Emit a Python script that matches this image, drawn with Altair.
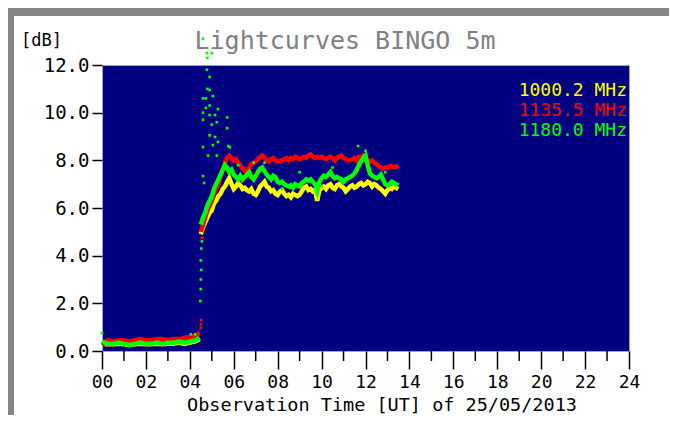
import altair as alt
import pandas as pd

# ---------------- data ----------------
series_names = ["1000.2 MHz", "1135.5 MHz", "1180.0 MHz"]
series_colors = ["#ffff00", "#ff0000", "#00ff00"]

# baseline section, 00h - 04.5h, every 0.25 h
base_hours = [0.0, 0.25, 0.5, 0.75, 1.0, 1.25, 1.5, 1.75, 2.0, 2.25,
              2.5, 2.75, 3.0, 3.25, 3.5, 3.75, 4.0, 4.25, 4.45]
base_yellow = [0.3, 0.28, 0.28, 0.3, 0.28, 0.25, 0.28, 0.3, 0.28, 0.28,
               0.3, 0.28, 0.3, 0.3, 0.35, 0.3, 0.35, 0.4, 0.5]
base_red = [0.25, 0.45, 0.4, 0.45, 0.45, 0.4, 0.45, 0.5, 0.45, 0.45,
            0.5, 0.5, 0.45, 0.5, 0.5, 0.55, 0.6, 0.65, 0.75]
base_green = [0.4, 0.3, 0.3, 0.35, 0.3, 0.25, 0.3, 0.35, 0.3, 0.3,
              0.35, 0.3, 0.35, 0.35, 0.4, 0.35, 0.4, 0.45, 0.55]

# main section, 04.5h - 13.5h, every 0.1 h
main_hours = [round(4.5 + 0.1 * i, 1) for i in range(91)]
main_yellow = [4.9, 5.2, 5.4, 5.6, 5.8, 5.9,
               6.2, 6.3, 6.5, 6.6, 6.8, 6.9, 7.1, 7.25, 7.0, 6.8,
               6.9, 7.05, 6.95, 6.8, 6.85, 6.75, 6.7, 6.8, 6.6, 6.55,
               6.7, 6.9, 7.0, 7.1, 6.9, 6.85, 6.7, 6.75, 6.6, 6.55,
               6.7, 6.75, 6.6, 6.5, 6.55, 6.45, 6.6, 6.55, 6.5, 6.55,
               6.7, 6.85, 6.9, 6.75, 6.8, 6.7, 6.75, 6.3, 6.75, 6.85,
               6.9, 6.8, 6.95, 7.0, 6.85, 6.8, 6.95, 7.0, 6.9, 6.85,
               6.7, 6.8, 6.9, 6.95, 6.85, 6.9, 7.0, 7.05, 6.95, 7.0,
               7.1, 7.05, 6.9, 7.0, 6.95, 6.85, 6.8, 6.7, 6.6, 6.75,
               6.85, 6.8, 6.9, 6.85, 6.8]
main_red = [5.0, 5.3, 5.6, 5.9, 6.1, 6.3,
            6.6, 6.8, 7.0, 7.3, 7.6, 7.9, 8.1, 8.2, 8.1, 8.0,
            8.05, 7.9, 7.8, 7.65, 7.55, 7.5, 7.7, 7.85, 7.9, 7.95,
            8.05, 8.15, 8.2, 8.1, 8.0, 7.95, 8.05, 8.1, 8.0, 7.95,
            7.95, 8.0, 8.05, 8.1, 8.0, 8.1, 8.05, 8.15, 8.1, 8.05,
            8.1, 8.15, 8.1, 8.2, 8.25, 8.15, 8.1, 8.15, 8.1, 8.15,
            8.1, 8.05, 8.1, 8.15, 8.1, 8.0, 8.1, 8.15, 8.2, 8.1,
            8.05, 8.0, 8.0, 8.05, 8.1, 8.0, 8.15, 8.1, 8.2, 8.1,
            8.0, 7.95, 8.0, 7.9, 7.85, 7.75, 7.7, 7.65, 7.7, 7.7,
            7.75, 7.75, 7.7, 7.75, 7.7]
main_green = [5.3, 5.6, 5.8, 6.1, 6.3, 6.5,
              6.8, 7.0, 7.2, 7.4, 7.6, 7.8, 7.7, 7.5, 7.6, 7.4,
              7.3, 7.2, 7.35, 7.2, 7.3, 7.4, 7.5, 7.3, 7.2, 7.35,
              7.5, 7.65, 7.7, 7.55, 7.4, 7.3, 7.2, 7.35, 7.3, 7.1,
              7.05, 7.1, 7.0, 6.95, 6.9, 6.95, 6.85, 7.0, 6.95, 6.9,
              7.05, 7.1, 7.2, 7.15, 7.2, 7.1, 7.0, 6.7, 7.1, 7.25,
              7.35, 7.3, 7.4, 7.5, 7.35, 7.25, 7.3, 7.25, 7.2, 7.1,
              7.2, 7.25, 7.3, 7.35, 7.45, 7.6, 7.8, 7.95, 8.1, 8.2,
              7.8, 7.45, 7.35, 7.3, 7.25, 7.3, 7.4, 7.2, 7.0, 6.95,
              7.0, 7.1, 7.05, 7.0, 6.95]

# scattered single samples
green_dot_h = [4.6, 4.78, 5.0, 4.8, 4.78, 4.9, 4.8, 4.9, 4.6, 4.73, 5.05, 4.73, 4.9,
               5.28, 4.6, 4.9, 5.15, 5.7, 4.6, 5.0, 5.23, 5.7, 4.9, 5.15, 5.28, 4.6,
               5.05, 5.75, 5.82, 4.83, 5.23, 4.6, 4.65,
               4.48, 4.5, 4.5, 4.52, 4.5, 4.52, 4.55,
               0.0, 4.05, 4.25,
               11.66, 12.0, 6.2, 6.9, 7.4, 9.0, 10.5, 12.9, 8.2, 10.0]
green_dot_db = [13.1, 12.5, 12.5, 12.3, 11.8, 11.5, 11.0, 10.95, 10.6, 10.6, 10.7, 10.2, 10.3,
                10.15, 10.0, 9.9, 9.9, 9.8, 9.7, 9.5, 9.6, 9.35, 9.05, 8.98, 8.77, 8.56,
                8.64, 8.6, 8.55, 8.2, 8.2, 7.34, 7.05,
                2.1, 2.6, 3.0, 3.4, 3.8, 4.3, 4.6,
                0.75, 0.7, 0.7,
                8.6, 8.4, 7.8, 7.9, 7.9, 7.5, 7.7, 7.5, 6.8, 6.9]
red_dot_h = [4.5, 4.5, 4.52, 4.55]
red_dot_db = [0.97, 1.1, 1.3, 4.75]

x_tick_values = list(range(0, 25, 2))
x_minor_values = list(range(1, 24, 2))
y_tick_values = [0, 2, 4, 6, 8, 10, 12]

# ---------------- build tables ----------------
rows = []
for name, b, m in zip(series_names, [base_yellow, base_red, base_green],
                      [main_yellow, main_red, main_green]):
    for h, v in zip(base_hours, b):
        rows.append({"h": h, "db": v, "series": name, "seg": "a"})
    for h, v in zip(main_hours, m):
        rows.append({"h": h, "db": v, "series": name, "seg": "b"})
lines_df = pd.DataFrame(rows)
gdots = pd.DataFrame({"h": green_dot_h, "db": green_dot_db})
rdots = pd.DataFrame({"h": red_dot_h, "db": red_dot_db})
minor_df = pd.DataFrame({"h": x_minor_values})
one = pd.DataFrame({"a": [0]})

W, H = 527, 286
FONT = "DejaVu Sans Mono"

xscale = alt.Scale(domain=[0, 24], nice=False, zero=False)
yscale = alt.Scale(domain=[0, 12], nice=False)
xaxis = alt.Axis(values=x_tick_values, title=None, grid=False, domain=False,
                 tickSize=18, tickColor="black", tickWidth=1.5,
                 labelExpr="datum.value < 10 ? '0' + datum.value : '' + datum.value",
                 labelFont=FONT, labelFontSize=18, labelColor="black",
                 labelPadding=4, labelFlush=False, labelOverlap=False, zindex=1)
yaxis = alt.Axis(values=y_tick_values, title=None, grid=False, domain=False,
                 tickSize=10, tickColor="black", tickWidth=1.5, format=".1f",
                 labelFont=FONT, labelFontSize=19, labelColor="black",
                 labelPadding=3, labelFlush=False, labelOverlap=False, zindex=1)

def X():
    return alt.X("h:Q", scale=xscale, axis=xaxis)

def Y():
    return alt.Y("db:Q", scale=yscale, axis=yaxis)

layers = []
# gray frame strips
layers.append(alt.Chart(one).mark_rect(color="#858585").encode(
    x=alt.value(-94), x2=alt.value(-88), y=alt.value(-57), y2=alt.value(H + 64)))
layers.append(alt.Chart(one).mark_rect(color="#858585").encode(
    x=alt.value(-94), x2=alt.value(W + 40), y=alt.value(-57), y2=alt.value(-49)))

for name, col in zip(series_names, series_colors):
    layers.append(
        alt.Chart(lines_df[lines_df.series == name]).mark_line(
            color=col, strokeWidth=4.5, strokeJoin="miter").encode(
            x=X(), y=Y(), detail="seg:N")
    )
layers.append(alt.Chart(rdots).mark_square(size=7, color="#ff0000", opacity=1).encode(x=X(), y=Y()))
layers.append(alt.Chart(gdots).mark_square(size=7, color="#00ff00", opacity=1).encode(x=X(), y=Y()))

# minor ticks
layers.append(alt.Chart(minor_df).mark_rule(color="black", strokeWidth=1.5).encode(
    x=X(), y=alt.value(H), y2=alt.value(H + 10)))

# texts
def txt(t, x, y, color, size, align="left"):
    return alt.Chart(one).mark_text(text=t, font=FONT, fontSize=size, color=color,
                                    align=align, baseline="alphabetic").encode(
        x=alt.value(x), y=alt.value(y))

layers.append(txt("Lightcurves BINGO 5m", 243, -16, "#808080", 25, "center"))
layers.append(txt("[dB]", -81, -19, "black", 17))
layers.append(txt("Observation Time [UT] of 25/05/2013", 280, 346, "black", 18.5, "center"))
for i, (name, col) in enumerate(zip(series_names, series_colors)):
    layers.append(txt(name, 525, 30.5 + 20 * i, col, 18, "right"))

chart = alt.layer(*layers).properties(
    width=W, height=H,
    autosize=alt.AutoSizeParams(type="none"),
    padding={"left": 94, "top": 57, "right": 40, "bottom": 64},
    background="white",
).configure_view(fill="#000080", stroke="#a0a0d8", strokeWidth=1)

chart.save("out.html", embed_options={"renderer": "svg", "actions": False})
